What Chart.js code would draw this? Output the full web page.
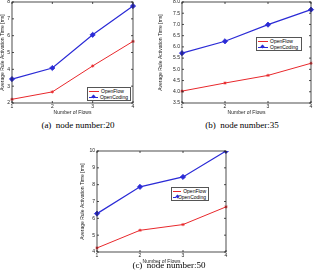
<!DOCTYPE html>
<html>
<head>
<meta charset="utf-8">
<script src="https://cdn.jsdelivr.net/npm/chart.js@4"></script>
<style>
  body { margin: 0; width: 316px; height: 280px; background: #fff; position: relative; overflow: hidden; font-family: "Liberation Sans", Arial, sans-serif; }
  .box { position: absolute; }
  .legend { position: absolute; background: #fff; border: 1px solid #555; font-size: 5px; line-height: 6px; padding: 0 2px 0 1px; color: #000; }
  .legend .row { display: flex; align-items: center; height: 6px; white-space: nowrap; }
  .legend .sample { position: relative; width: 10px; height: 6px; margin-right: 2px; }
  .legend .sample i { position: absolute; left: 0; right: 0; top: 2.5px; height: 1px; }
  .legend .sample b { position: absolute; left: 3px; top: 1px; width: 3px; height: 3px; transform: rotate(45deg); }
  .cap { position: absolute; font-family: "Liberation Serif", "Times New Roman", serif; font-size: 9px; color: #000; white-space: nowrap; transform: translateX(-50%); }
</style>
</head>
<body>
<div class="box" style="left:0;top:-4px;width:140px;height:120px"><canvas id="c20"></canvas></div>
<div class="box" style="left:158px;top:-4px;width:158px;height:120px"><canvas id="c35"></canvas></div>
<div class="box" style="left:80px;top:145px;width:153px;height:120px"><canvas id="c50"></canvas></div>

<div class="cap" style="left:78px;top:120px">(a)&nbsp; node number:20</div>
<div class="cap" style="left:242px;top:120px">(b)&nbsp; node number:35</div>
<div class="cap" style="left:169px;top:260px">(c)&nbsp; node number:50</div>

<script>
const flows = ['1', '2', '3', '4'];
const seriesNames = ['OpenFlow', 'OpenCoding'];
const seriesColors = ['#e8282c', '#2b2bd6'];

const openFlow20 = [2.22, 2.66, 4.2, 5.66];
const openCoding20 = [3.42, 4.08, 6.05, 7.76];
const openFlow35 = [4.03, 4.39, 4.73, 5.27];
const openCoding35 = [5.72, 6.25, 6.99, 7.66];
const openFlow50 = [4.24, 5.29, 5.63, 6.68];
const openCoding50 = [6.28, 7.87, 8.46, 10.0];

const yRange20 = [2, 8, 1];
const yRange35 = [3.5, 8, 0.5];
const yRange50 = [4, 10, 1];

const tickFont = { family: 'Liberation Sans', size: 5 };

// frame box + inward ticks like matlab
const framePlugin = {
    id: 'frame',
    afterDraw(chart) {
        const a = chart.chartArea;
        const ctx = chart.ctx;
        ctx.save();
        ctx.strokeStyle = '#222';
        ctx.lineWidth = 0.8;
        ctx.strokeRect(a.left, a.top, a.right - a.left, a.bottom - a.top);
        const xs = chart.scales.x, ys = chart.scales.y;
        ctx.beginPath();
        xs.ticks.forEach((t, i) => {
            const px = xs.getPixelForTick(i);
            ctx.moveTo(px, a.bottom); ctx.lineTo(px, a.bottom - 2);
            ctx.moveTo(px, a.top); ctx.lineTo(px, a.top + 2);
        });
        ys.ticks.forEach((t, i) => {
            const py = ys.getPixelForTick(i);
            ctx.moveTo(a.left, py); ctx.lineTo(a.left + 2, py);
            ctx.moveTo(a.right, py); ctx.lineTo(a.right - 2, py);
        });
        ctx.stroke();
        ctx.restore();
    }
};

function makeChart(id, flowVals, codingVals, yRange, yWidth, padRight) {
    const ctx = document.getElementById(id).getContext('2d');
    return new Chart(ctx, {
        type: 'line',
        data: {
            labels: flows,
            datasets: [{
                label: seriesNames[0],
                data: flowVals,
                borderColor: seriesColors[0],
                backgroundColor: seriesColors[0],
                borderWidth: 1,
                pointStyle: 'star',
                pointRadius: 1.6,
                pointBorderWidth: 0.8,
                tension: 0
            }, {
                label: seriesNames[1],
                data: codingVals,
                borderColor: seriesColors[1],
                backgroundColor: seriesColors[1],
                borderWidth: 1.2,
                pointStyle: 'rectRot',
                pointRadius: 2.6,
                pointBorderWidth: 0.8,
                tension: 0
            }]
        },
        options: {
            responsive: true,
            maintainAspectRatio: false,
            animation: false,
            devicePixelRatio: 1,
            layout: { padding: { top: 6, right: padRight, left: 0, bottom: 0 } },
            plugins: { legend: { display: false }, tooltip: { enabled: false } },
            scales: {
                x: {
                    offset: false,
                    grid: { display: false, drawTicks: false },
                    border: { display: false },
                    ticks: { font: tickFont, color: '#222', padding: 0.5, maxRotation: 0 },
                    title: { display: true, text: 'Number of Flows', font: tickFont, color: '#222', padding: { top: 0, bottom: 0 } },
                    afterFit(s) { s.height = 13; s.paddingLeft = 0; s.paddingRight = 0; }
                },
                y: {
                    min: yRange[0],
                    max: yRange[1],
                    grid: { display: false, drawTicks: false },
                    border: { display: false },
                    ticks: { stepSize: yRange[2], font: tickFont, color: '#222', padding: 2 },
                    title: { display: true, text: 'Average Rule Activation Time [ms]', font: tickFont, color: '#222', padding: { top: 0, bottom: 1 } },
                    afterFit(s) { s.width = yWidth; s.paddingTop = 0; s.paddingBottom = 0; }
                }
            }
        },
        plugins: [framePlugin]
    });
}

makeChart('c20', openFlow20, openCoding20, yRange20, 12, 7);
makeChart('c35', openFlow35, openCoding35, yRange35, 24, 5);
makeChart('c50', openFlow50, openCoding50, yRange50, 17, 7);

// legends in html, built from the series names/colours
function addLegend(left, top, width) {
    const lg = document.createElement('div');
    lg.className = 'legend';
    lg.style.left = left + 'px';
    lg.style.top = top + 'px';
    lg.style.width = width + 'px';
    seriesNames.forEach((name, i) => {
        const row = document.createElement('div');
        row.className = 'row';
        const s = document.createElement('span');
        s.className = 'sample';
        s.innerHTML = '<i style="background:' + seriesColors[i] + '"></i>' +
            (i === 1 ? '<b style="background:' + seriesColors[i] + '"></b>' : '');
        row.appendChild(s);
        row.appendChild(document.createTextNode(name));
        lg.appendChild(row);
    });
    document.body.appendChild(lg);
}
addLegend(87, 87, 39);
addLegend(256, 37, 41);
addLegend(171, 187, 33);
</script>
</body>
</html>
